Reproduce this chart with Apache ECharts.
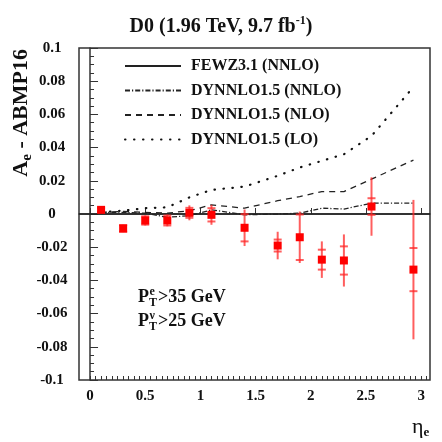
<!DOCTYPE html>
<html>
<head>
<meta charset="utf-8">
<script src="https://cdn.jsdelivr.net/npm/echarts@6/dist/echarts.min.js"></script>
<style>
html, body { margin: 0; padding: 0; background: #fff; }
#chart { width: 442px; height: 442px; }
</style>
</head>
<body>
<div id="chart"></div>
<script>
// bin centres in eta_e
const etaBins = [0.1, 0.3, 0.5, 0.7, 0.9, 1.1, 1.4, 1.7, 1.9, 2.1, 2.3, 2.55, 2.93]
// D0 data minus ABMP16, with total and stat errors
const dataVal = [0.0025, -0.0087, -0.0039, -0.0039, 0.0007, -0.0005, -0.0083, -0.019, -0.014, -0.0275, -0.028, 0.0045, -0.0335]
const totErr = [0.001, 0.0022, 0.003, 0.0035, 0.0045, 0.006, 0.011, 0.0083, 0.0155, 0.011, 0.0157, 0.0176, 0.042]
const statErr = [0.001, 0.002, 0.0025, 0.003, 0.003, 0.004, 0.0082, 0.0036, 0.0137, 0.006, 0.0085, 0.005, 0.013]
// theory curves minus ABMP16
const fewzEta = [-0.1, 3.08]
const fewzVal = [0, 0]
const nnloVal = [0.001, 0.001, 0.0005, -0.002, -0.001, 0.0025, -0.0005, 0, 0.0005, 0.0035, 0.003, 0.0065, 0.0065]
const nloVal = [0.001, 0.0015, 0.001, 0.0005, 0.002, 0.0055, 0.0035, 0.008, 0.0105, 0.0135, 0.0135, 0.021, 0.0325]
const loVal = [0.001, 0.002, 0.0035, 0.004, 0.01, 0.0145, 0.0165, 0.023, 0.028, 0.032, 0.036, 0.047, 0.0765]
// axis labels
const xLabels = [0, 0.5, 1, 1.5, 2, 2.5, 3]
const xMinor = []
for (let i = 0; i <= 61; i++) xMinor.push(Math.round(i * 5) / 100)

const font = 'Liberation Serif'
const ink = '#111'
const frame = '#333'

const zip = (xs, ys) => xs.map((x, i) => [x, ys[i]])

// P_T with stacked sub/superscript
const ptLabel = (y, sup, rest) => ({
  type: 'group',
  x: 138,
  y: y,
  children: [
    { type: 'text', x: 0, y: 0, style: { text: 'P', font: 'bold 18px "Liberation Serif"', fill: ink, verticalAlign: 'middle' } },
    { type: 'text', x: 11, y: 6, style: { text: 'T', font: 'bold 12px "Liberation Serif"', fill: ink, verticalAlign: 'middle' } },
    { type: 'text', x: 11.5, y: -5, style: { text: sup, font: 'bold 12px "Liberation Serif"', fill: ink, verticalAlign: 'middle' } },
    { type: 'text', x: 20, y: 0, style: { text: rest, font: 'bold 18px "Liberation Serif"', fill: ink, verticalAlign: 'middle' } }
  ]
})

const chart = echarts.init(document.getElementById('chart'))

const option = {
  animation: false,
  title: {
    text: '{t|D0 (1.96 TeV, 9.7 fb}{sup|-1}{t|)}',
    left: 'center',
    top: 10,
    textStyle: {
      rich: {
        t: { fontFamily: font, fontWeight: 'bold', fontSize: 20, color: ink },
        sup: { fontFamily: font, fontWeight: 'bold', fontSize: 12, color: ink, padding: [0, 0, 12, 0] }
      }
    }
  },
  legend: {
    data: ['FEWZ3.1 (NNLO)', 'DYNNLO1.5 (NNLO)', 'DYNNLO1.5 (NLO)', 'DYNNLO1.5 (LO)'],
    orient: 'vertical',
    left: 124,
    top: 58,
    padding: 0,
    itemWidth: 56,
    itemHeight: 16,
    itemGap: 8.5,
    itemStyle: { opacity: 0 },
    textStyle: { fontFamily: font, fontWeight: 'bold', fontSize: 16, color: ink, padding: [0, 0, 0, 5] }
  },
  grid: {
    left: 79,
    right: 12,
    top: 48,
    bottom: 62,
    show: true,
    borderColor: frame,
    borderWidth: 1.5
  },
  xAxis: [
    {
      type: 'value',
      min: -0.1,
      max: 3.08,
      axisLine: { show: true, lineStyle: { color: frame, width: 1.5 } },
      axisTick: { show: true, inside: true, length: 6, customValues: xLabels, lineStyle: { color: frame } },
      axisLabel: {
        customValues: xLabels,
        margin: 9,
        fontFamily: font,
        fontWeight: 'bold',
        fontSize: 15,
        color: ink
      },
      splitLine: { show: false }
    },
    {
      type: 'value',
      min: -0.1,
      max: 3.08,
      position: 'bottom',
      axisLine: { show: false },
      axisTick: { show: true, inside: true, length: 4, customValues: xMinor, lineStyle: { color: frame } },
      axisLabel: { show: false },
      splitLine: { show: false }
    }
  ],
  yAxis: {
    type: 'value',
    min: -0.1,
    max: 0.1,
    interval: 0.02,
    axisLine: { show: true, lineStyle: { color: frame, width: 1.5 } },
    axisTick: { show: true, inside: true, length: 8, lineStyle: { color: frame } },
    minorTick: { show: true, splitNumber: 4, length: 4, lineStyle: { color: frame } },
    axisLabel: {
      margin: 27,
      align: 'center',
      fontFamily: font,
      fontWeight: 'bold',
      fontSize: 15,
      color: ink,
      formatter: v => String(Math.round(v * 100) / 100)
    },
    splitLine: { show: false }
  },
  graphic: [
    {
      type: 'text',
      x: 21,
      y: 49,
      rotation: Math.PI / 2,
      style: {
        text: '{a|A}{s|e}{a| - ABMP16}',
        align: 'right',
        verticalAlign: 'middle',
        rich: {
          a: { fontFamily: font, fontWeight: 'bold', fontSize: 22, fill: ink, color: ink },
          s: { fontFamily: font, fontWeight: 'bold', fontSize: 15, fill: ink, color: ink, padding: [12, 0, 0, 0] }
        }
      }
    },
    {
      type: 'text',
      x: 412,
      y: 427,
      style: {
        text: '{a|η}{s|e}',
        align: 'left',
        verticalAlign: 'middle',
        rich: {
          a: { fontFamily: font, fontSize: 22, fill: ink, color: ink },
          s: { fontFamily: font, fontWeight: 'bold', fontSize: 13, fill: ink, color: ink, padding: [12, 0, 0, 0] }
        }
      }
    },
    ptLabel(297, 'e', '>35 GeV'),
    ptLabel(321, 'ν', '>25 GeV')
  ],
  series: [
    {
      name: 'FEWZ3.1 (NNLO)',
      type: 'line',
      symbol: 'none',
      data: zip(fewzEta, fewzVal),
      lineStyle: { color: '#222', width: 1.5 },
      itemStyle: { color: '#222' },
      z: 3
    },
    {
      name: 'DYNNLO1.5 (NNLO)',
      type: 'line',
      symbol: 'none',
      data: zip(etaBins, nnloVal),
      lineStyle: { color: '#222', width: 1.3, type: [5, 2, 1.2, 2] },
      itemStyle: { color: '#222' }
    },
    {
      name: 'DYNNLO1.5 (NLO)',
      type: 'line',
      symbol: 'none',
      data: zip(etaBins, nloVal),
      lineStyle: { color: '#222', width: 1.3, type: [6, 5] },
      itemStyle: { color: '#222' }
    },
    {
      name: 'DYNNLO1.5 (LO)',
      type: 'line',
      symbol: 'none',
      data: zip(etaBins, loVal),
      lineStyle: { color: '#111', width: 2.2, type: [0.5, 8.5], cap: 'round' },
      itemStyle: { color: '#111' }
    },
    {
      name: 'errors',
      type: 'custom',
      data: etaBins.map((e, i) => [e, dataVal[i], totErr[i], statErr[i]]),
      renderItem: function (params, api) {
        const x = api.value(0)
        const y = api.value(1)
        const tot = api.value(2)
        const st = api.value(3)
        const top = api.coord([x, y + tot])
        const bot = api.coord([x, y - tot])
        const sTop = api.coord([x, y + st])
        const sBot = api.coord([x, y - st])
        const style = { stroke: 'rgba(255, 40, 40, 0.75)', lineWidth: 2 }
        return {
          type: 'group',
          children: [
            { type: 'line', shape: { x1: top[0], y1: top[1], x2: bot[0], y2: bot[1] }, style },
            { type: 'line', shape: { x1: sTop[0] - 4, y1: sTop[1], x2: sTop[0] + 4, y2: sTop[1] }, style },
            { type: 'line', shape: { x1: sBot[0] - 4, y1: sBot[1], x2: sBot[0] + 4, y2: sBot[1] }, style }
          ]
        }
      },
      z: 4
    },
    {
      name: 'data',
      type: 'scatter',
      symbol: 'rect',
      symbolSize: 8,
      data: zip(etaBins, dataVal),
      itemStyle: { color: '#ff0000', opacity: 1 },
      z: 5
    }
  ]
}

chart.setOption(option)
</script>
</body>
</html>
